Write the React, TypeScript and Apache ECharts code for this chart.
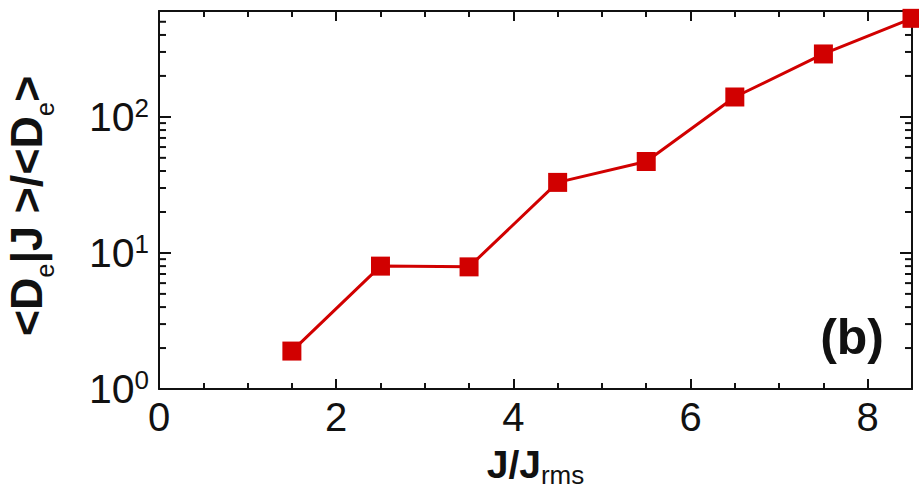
import React, { useEffect, useRef } from "react";
import * as echarts from "echarts";

const xValues = [1.5, 2.5, 3.5, 4.5, 5.5, 6.5, 7.5, 8.5];
const yValues = [1.9, 8.0, 7.9, 33, 47, 140, 290, 530];
const minorLogTicks = [2, 3, 4, 5, 6, 7, 8, 9, 20, 30, 40, 50, 60, 70, 80, 90, 200, 300, 400, 500];
const panelLabel = "(b)";

export default function App() {
  const ref = useRef<HTMLDivElement>(null);
  useEffect(() => {
    if (!ref.current) return;
    const chart = echarts.init(ref.current, undefined, { renderer: "svg" });
    const font = "Liberation Sans, Arial, Helvetica, sans-serif";
    const axisLine = { show: true, onZero: false, lineStyle: { color: "#111", width: 2 } };
    const xTick = { show: true, inside: true, length: 10, lineStyle: { color: "#111", width: 2 } };
    const xMinor = { show: true, splitNumber: 4, length: 6, lineStyle: { color: "#111", width: 2 } };
    const yTick = { show: true, inside: true, length: 12, lineStyle: { color: "#111", width: 2 } };
    chart.setOption({
      animation: false,
      backgroundColor: "#fff",
      grid: { left: 159, top: 11, right: 7, bottom: 101, containLabel: false, outerBoundsMode: "none" },
      xAxis: [
        {
          type: "value",
          min: 0,
          max: 8.5,
          interval: 2,
          position: "bottom",
          axisLine,
          axisTick: xTick,
          minorTick: xMinor,
          splitLine: { show: false },
          axisLabel: {
            show: true,
            margin: 8,
            color: "#111",
            fontSize: 40,
            fontFamily: font,
            showMaxLabel: false,
          },
          name: "{m|J/J}{sub|rms}",
          nameLocation: "middle",
          nameGap: 52,
          nameTextStyle: {
            rich: {
              m: { fontSize: 39, fontWeight: "bold", fontFamily: font, color: "#111", lineHeight: 40 },
              sub: { fontSize: 26, fontFamily: font, color: "#111", padding: [20, 0, 0, 0], lineHeight: 26 },
            },
          },
        },
        {
          type: "value",
          min: 0,
          max: 8.5,
          interval: 2,
          position: "top",
          axisLine,
          axisTick: xTick,
          minorTick: xMinor,
          splitLine: { show: false },
          axisLabel: { show: false },
        },
      ],
      yAxis: [
        {
          type: "log",
          logBase: 10,
          min: 1,
          max: 600,
          position: "left",
          axisLine,
          axisTick: yTick,
          splitLine: { show: false },
          axisLabel: {
            show: true,
            margin: 10,
            showMaxLabel: false,
            formatter: (v: number) => {
              const e = Math.round(Math.log10(v));
              return "{b|10}{s|" + e + "}";
            },
            rich: {
              b: { fontSize: 41, fontFamily: font, color: "#111", lineHeight: 40 },
              s: { fontSize: 26, fontFamily: font, color: "#111", padding: [0, 0, 18, 0], lineHeight: 27 },
            },
          },
          name: "{m|<D}{sub|e}{m||J >/<D}{sub|e}{m|>}",
          nameLocation: "middle",
          nameGap: 110,
          nameRotate: 90,
          nameTextStyle: {
            padding: [0, 12, 0, 0],
            rich: {
              m: { fontSize: 45, fontWeight: "bold", fontFamily: font, color: "#111", lineHeight: 46 },
              sub: { fontSize: 25, fontFamily: font, color: "#111", padding: [38, 0, 0, 0], lineHeight: 25 },
            },
          },
        },
        {
          type: "log",
          logBase: 10,
          min: 1,
          max: 600,
          position: "right",
          axisLine,
          axisTick: yTick,
          splitLine: { show: false },
          axisLabel: { show: false },
        },
      ],
      series: [
        {
          type: "line",
          data: xValues.map((x, i) => [x, yValues[i]]),
          symbol: "rect",
          symbolSize: 19,
          lineStyle: { color: "#d10000", width: 3 },
          itemStyle: { color: "#d10000" },
          clip: false,
          z: 5,
        },
        {
          type: "custom",
          data: minorLogTicks.map((v) => [0, v]),
          silent: true,
          clip: false,
          renderItem: (params: any, api: any) => {
            const v = api.value(1);
            const pl = api.coord([0, v]);
            const pr = api.coord([8.5, v]);
            return {
              type: "group",
              children: [
                {
                  type: "line",
                  shape: { x1: pl[0], y1: pl[1], x2: pl[0] + 7, y2: pl[1] },
                  style: { stroke: "#111", lineWidth: 2 },
                },
                {
                  type: "line",
                  shape: { x1: pr[0], y1: pr[1], x2: pr[0] - 7, y2: pr[1] },
                  style: { stroke: "#111", lineWidth: 2 },
                },
              ],
            };
          },
        },
      ],
      graphic: [
        {
          type: "text",
          right: 35,
          top: 312,
          style: {
            text: panelLabel,
            fontSize: 50,
            fontWeight: "bold",
            fontFamily: font,
            fill: "#111",
          },
        },
      ],
    });
    return () => chart.dispose();
  }, []);
  return <div ref={ref} style={{ width: 919, height: 490, position: "absolute", left: 0, top: 0 }} />;
}
